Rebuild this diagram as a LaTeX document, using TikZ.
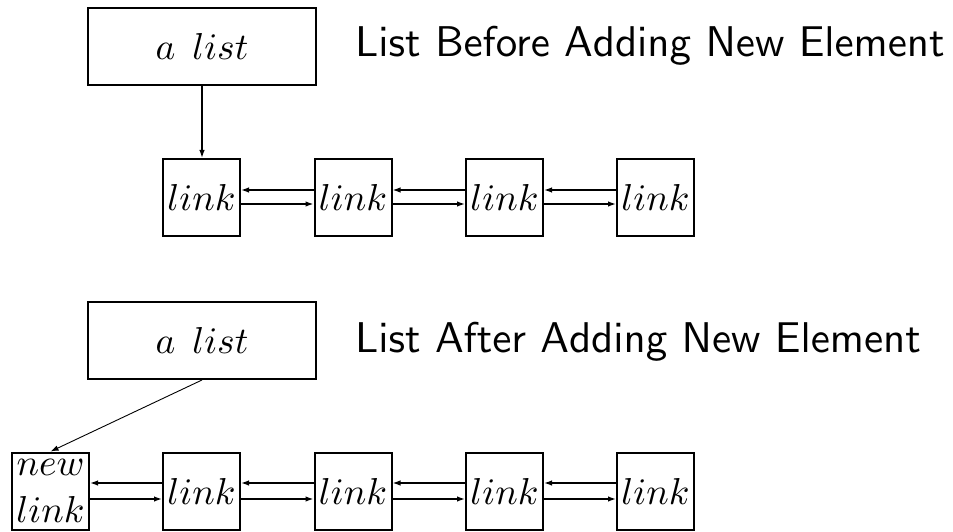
\documentclass[tikz,border=0pt]{standalone}
\usetikzlibrary{arrows.meta}
\DeclareFontShape{OML}{cmm}{m}{it}{<-> cmmi10}{\skewchar\font=127 }
\font\titlesf=cmss10 at 43pt
\begin{document}
\begin{tikzpicture}[x=1pt,y=-1pt,
  listbox/.style={draw,line width=2pt,minimum width=228pt,minimum height=77pt,inner sep=0pt,font=\fontsize{37.5}{44}\selectfont},
  linkbox/.style={draw,line width=2pt,minimum width=77pt,minimum height=77pt,inner sep=0pt,font=\fontsize{37.5}{47}\selectfont},
  conn/.style={line width=1.4pt,-{Latex[length=8pt,width=5.5pt]}},
  title/.style={anchor=base west,inner sep=0pt,font=\titlesf}]
\useasboundingbox (0,0) rectangle (953,532);
% top diagram
\node[listbox] (al1) at (202,46.5) {$a\hspace{17pt}list$};
\node[title] (t1) at (355,57) {List Before Adding New Element};
\node[linkbox] (a1) at (201.5,197.5) {$link$};
\node[linkbox] (a2) at (353,197.5) {$link$};
\node[linkbox] (a3) at (504.5,197.5) {$link$};
\node[linkbox] (a4) at (655.5,197.5) {$link$};
\draw[conn] (al1.south) -- (al1.south |- a1.north);
\foreach \l/\r in {a1/a2,a2/a3,a3/a4}{
  \draw[conn] ([yshift=7.5pt]\r.west) -- ([yshift=7.5pt]\l.east);
  \draw[conn] ([yshift=-6.5pt]\l.east) -- ([yshift=-6.5pt]\r.west);
}
% bottom diagram
\node[listbox] (al2) at (202,340.5) {$a\hspace{17pt}list$};
\node[title] (t2) at (355,352) {List After Adding New Element};
\node[linkbox,align=center] (n0) at (50.5,491) {$new$\\$link$};
\node[linkbox] (b1) at (201.5,491) {$link$};
\node[linkbox] (b2) at (353,491) {$link$};
\node[linkbox] (b3) at (504.5,491) {$link$};
\node[linkbox] (b4) at (655.5,491) {$link$};
\draw[line width=0.9pt,-{Latex[length=8pt,width=5.5pt]}] (al2.south) -- (n0.north);
\foreach \l/\r in {n0/b1,b1/b2,b2/b3,b3/b4}{
  \draw[conn] ([yshift=8pt]\r.west) -- ([yshift=8pt]\l.east);
  \draw[conn] ([yshift=-8pt]\l.east) -- ([yshift=-8pt]\r.west);
}
\end{tikzpicture}
\end{document}
